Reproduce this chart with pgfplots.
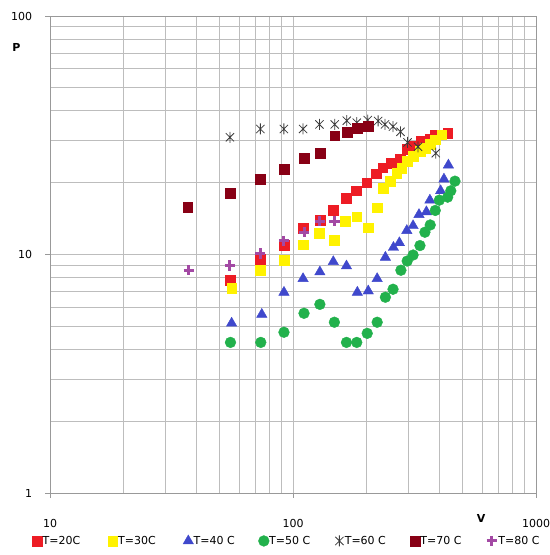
\documentclass[border=0pt]{standalone}
\usepackage{pgfplots}
\pgfplotsset{compat=1.18}
\usepackage{fontspec}
\setmainfont{DejaVu Sans}
\definecolor{c20}{RGB}{237,28,36}
\definecolor{c30}{RGB}{255,242,0}
\definecolor{c40}{RGB}{63,72,204}
\definecolor{c50}{RGB}{34,177,76}
\definecolor{c60}{RGB}{60,60,60}
\definecolor{c70}{RGB}{136,0,21}
\definecolor{c80}{RGB}{163,73,164}
\pgfdeclareplotmark{zh}{%
  \pgfpathmoveto{\pgfqpoint{0pt}{-\pgfplotmarksize}}%
  \pgfpathlineto{\pgfqpoint{0pt}{\pgfplotmarksize}}%
  \pgfpathmoveto{\pgfqpoint{-.75\pgfplotmarksize}{-.75\pgfplotmarksize}}%
  \pgfpathlineto{\pgfqpoint{.75\pgfplotmarksize}{.75\pgfplotmarksize}}%
  \pgfpathmoveto{\pgfqpoint{-.75\pgfplotmarksize}{.75\pgfplotmarksize}}%
  \pgfpathlineto{\pgfqpoint{.75\pgfplotmarksize}{-.75\pgfplotmarksize}}%
  \pgfusepathqstroke}
\begin{document}
\fontsize{11bp}{13bp}\selectfont
\begin{tikzpicture}
\useasboundingbox (0,0) rectangle (550bp,555bp);
\begin{axis}[
  at={(50bp,62bp)}, anchor=south west,
  width=486bp, height=477bp, scale only axis,
  xmode=log, ymode=log,
  xmin=10, xmax=1000, ymin=1, ymax=100,
  xtick={10,100,1000}, xticklabels={10,100,1000},
  ytick={1,10,100}, yticklabels={1,10,100},
  minor xtick={20,30,40,50,60,70,80,90,200,300,400,500,600,700,800,900},
  minor ytick={2,3,4,5,6,7,8,9,20,30,40,50,60,70,80,90},
  grid=both,
  major grid style={draw=black!26, line width=0.9bp},
  minor grid style={draw=black!26, line width=0.9bp},
  axis line style={draw=black!40, line width=0.9bp},
  tick align=outside,
  xtick pos=left, ytick pos=left,
  major tick length=5bp, minor tick length=0pt,
  tick style={draw=black!40, line width=0.9bp},
  xticklabel style={anchor=center, yshift=-25bp},
  yticklabel style={anchor=east, xshift=-9bp},
  tick label style={font=\fontsize{11bp}{13bp}\selectfont},
  legend columns=7,
  legend style={at={(0,0)}, anchor=west, xshift=-18.4bp, yshift=-47.7bp,
    draw=none, fill=none, inner sep=0pt, column sep=0pt,
    nodes={inner sep=0pt, anchor=west},
    font=\fontsize{11bp}{13bp}\selectfont},
  legend image code/.code={\path (0bp,0bp) (10.4bp,0bp);
    \draw[mark repeat=2,mark phase=2,#1] plot coordinates {(0bp,0bp) (5.2bp,0bp) (10.4bp,0bp)};},
]
% T=20C
\addplot[only marks, mark=square*, mark size=4.9bp, mark options={fill=c20, draw=c20}] coordinates {
(55,7.8) (73.3,9.55) (91.8,10.9) (110,12.9) (129,13.9) (146.5,15.3) (166,17.2) (182,18.5)
(201,20.0) (220,21.8) (234,23.1) (254.5,24.2) (275.6,25.2) (294,27.6) (313,28.4) (338,29.8)
(366,30.4) (384,31.6) (433,32.2)};
\addlegendentry{\makebox[64.75bp][l]{T=20C}}
% T=30C
\addplot[only marks, mark=square*, mark size=4.9bp, mark options={fill=c30, draw=c30}] coordinates {
(55.9,7.22) (73.3,8.59) (91.8,9.48) (110,11.0) (128.5,12.3) (148,11.5) (164,13.8) (183,14.4)
(204,12.96) (222,15.7) (235,19.0) (250.6,20.3) (267,21.97) (280,23.05) (294,24.6) (312.7,25.8)
(333,27.1) (349,27.97) (366,28.9) (384,30.3) (409,31.8)};
\addlegendentry{\makebox[64.75bp][l]{T=30C}}
% T=40 C
\addplot[only marks, mark=triangle*, mark size=6bp, mark options={fill=c40, draw=c40}] coordinates {
(55.9,5.15) (74.4,5.61) (91.8,6.94) (110,7.92) (129,8.45) (146.5,9.33) (166,8.95) (184,6.94)
(204,7.03) (222,7.92) (240,9.73) (259,10.7) (274,11.2) (294,12.6) (312,13.2) (330,14.7)
(354,15.1) (366,16.9) (405,18.5) (418,20.7) (436,23.7)};
\addlegendentry{\makebox[64.75bp][l]{T=40 C}}
% T=50 C
\addplot[only marks, mark=*, mark size=5.4bp, mark options={fill=c50, draw=c50}] coordinates {
(55.3,4.28) (73.7,4.28) (91.8,4.72) (111,5.67) (129,6.18) (148,5.2) (166,4.28) (183,4.28)
(202,4.67) (222,5.2) (240,6.62) (258,7.15) (278,8.59) (295,9.39) (312,9.95) (333,10.9)
(349,12.4) (367,13.3) (385,15.3) (400,16.9) (433,17.4) (446,18.5) (464,20.3)};
\addlegendentry{\makebox[64.75bp][l]{T=50 C}}
% T=60 C
\addplot[only marks, mark=zh, mark size=5.5bp, mark options={draw=c60, line width=0.8bp}] coordinates {
(55,31.0) (73.4,33.6) (91.7,33.6) (110,33.6) (128.5,35.1) (148.5,35.1) (166.5,36.4) (183,35.7)
(203,36.6) (224,36.3) (239,35.1) (258,34.4) (277,32.7) (296,29.5) (327,28.3) (387,26.6)};
\addlegendentry{\makebox[64.75bp][l]{T=60 C}}
% T=70 C
\addplot[only marks, mark=square*, mark size=4.9bp, mark options={fill=c70, draw=c70}] coordinates {
(36.9,15.8) (55,18.1) (73.3,20.7) (91.8,22.8) (111,25.3) (129,26.6) (148.5,31.5) (166.9,32.5)
(183.4,33.8) (204,34.4)};
\addlegendentry{\makebox[64.75bp][l]{T=70 C}}
% T=80 C
\addplot[only marks, mark=+, mark size=5.2bp, line width=3bp, mark options={draw=c80, line width=3bp}] coordinates {
(37.3,8.61) (55,9.01) (73.3,10.1) (91.8,11.4) (111,12.4) (129,13.8) (148,13.8)};
\addlegendentry{\makebox[64.75bp][l]{T=80 C}}
\end{axis}
\node[font=\fontsize{11bp}{13bp}\selectfont\bfseries] at (481bp,37bp) {V};
\node[font=\fontsize{11bp}{13bp}\selectfont\bfseries] at (16.5bp,508bp) {P};
\end{tikzpicture}
\end{document}
